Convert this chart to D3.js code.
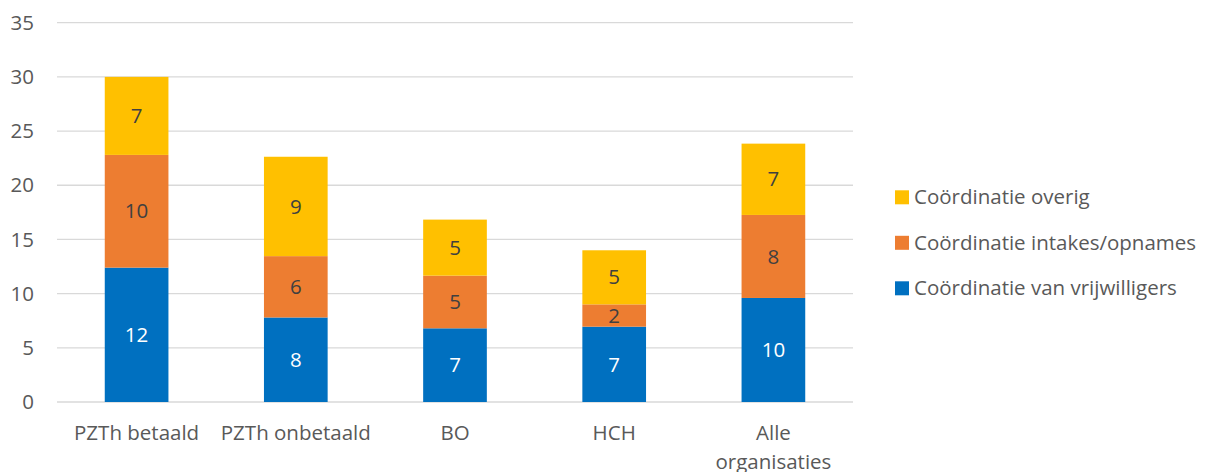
<!DOCTYPE html>
<html><head><meta charset="utf-8">
<script src="https://cdn.jsdelivr.net/npm/d3@7"></script>
<style>
body{margin:0;background:#fff;}
text{font-family:"Open Sans","Noto Sans",sans-serif;}
</style></head>
<body><svg id="c" width="1212" height="472"></svg>
<script>
const categories = ["PZTh betaald","PZTh onbetaald","BO","HCH","Alle organisaties"];
const vrijwilligers = [12.4, 7.8, 6.8, 6.95, 9.6];
const intakes = [10.4, 5.66, 4.86, 2.06, 7.66];
const overig = [7.2, 9.17, 5.17, 4.99, 6.58];
const seriesNames = ["Coördinatie van vrijwilligers","Coördinatie intakes/opnames","Coördinatie overig"];
const yTicks = [0,5,10,15,20,25,30,35];

const FS = 20.5;
const colors = ["#0070C0","#ED7D31","#FFC000"];
const labelColors = ["#ffffff","#404040","#404040"];
const svg = d3.select("#c");
const x = d3.scaleBand().domain(categories).range([57,853]).paddingInner(0.6).paddingOuter(0.3);
const y = d3.scaleLinear().domain([0,35]).range([402,22.7]);

// gridlines
svg.append("g").selectAll("line").data(yTicks).join("line")
  .attr("x1",57).attr("x2",853).attr("y1",d=>y(d)).attr("y2",d=>y(d))
  .attr("stroke","#d9d9d9").attr("stroke-width",1.3);

// y axis labels
const yAxis = d3.axisLeft(y).tickValues(yTicks).tickSize(0).tickPadding(0);
const gy = svg.append("g").attr("transform","translate(34,0)").call(yAxis);
gy.select(".domain").remove();
gy.selectAll("text").attr("font-size",FS).attr("fill","#595959").attr("font-family","'Open Sans',sans-serif");

const stackData = categories.map((c,i)=>({cat:c, s0:vrijwilligers[i], s1:intakes[i], s2:overig[i]}));
const stack = d3.stack().keys(["s0","s1","s2"])(stackData);

stack.forEach((layer,k)=>{
  const g = svg.append("g");
  g.selectAll("rect").data(layer).join("rect")
    .attr("x",d=>x(d.data.cat)).attr("width",x.bandwidth())
    .attr("y",d=>y(d[1])).attr("height",d=>y(d[0])-y(d[1]))
    .attr("fill",colors[k]);
  g.selectAll("text").data(layer).join("text")
    .attr("x",d=>x(d.data.cat)+x.bandwidth()/2)
    .attr("y",d=>(y(d[0])+y(d[1]))/2)
    .attr("dy","0.35em").attr("text-anchor","middle")
    .attr("font-size",FS).attr("fill",labelColors[k])
    .text(d=>d3.format(".0f")(d[1]-d[0]));
});

// x axis labels
const xAxis = d3.axisBottom(x).tickSize(0).tickPadding(0);
const gx = svg.append("g").attr("transform","translate(0,402)").call(xAxis);
gx.select(".domain").remove();
gx.selectAll("text").attr("font-size",FS).attr("fill","#595959").attr("font-family","'Open Sans',sans-serif")
  .each(function(d){
    const t = d3.select(this); t.text(null);
    const lines = d==="Alle organisaties" ? ["Alle","organisaties"] : [d];
    lines.forEach((l,i)=>t.append("tspan").attr("x",0).attr("y",31+i*29).attr("dy","0.35em").text(l));
  });

// legend
const legendOrder = [2,1,0];
const lg = svg.append("g");
legendOrder.forEach((k,i)=>{
  const cy = 197.3 + i*45.5;
  lg.append("rect").attr("x",895).attr("y",cy-7).attr("width",14).attr("height",14).attr("fill",colors[k]);
  lg.append("text").attr("x",914).attr("y",cy).attr("dy","0.35em").attr("font-size",FS).attr("fill","#595959").text(seriesNames[k]);
});
</script></body></html>
